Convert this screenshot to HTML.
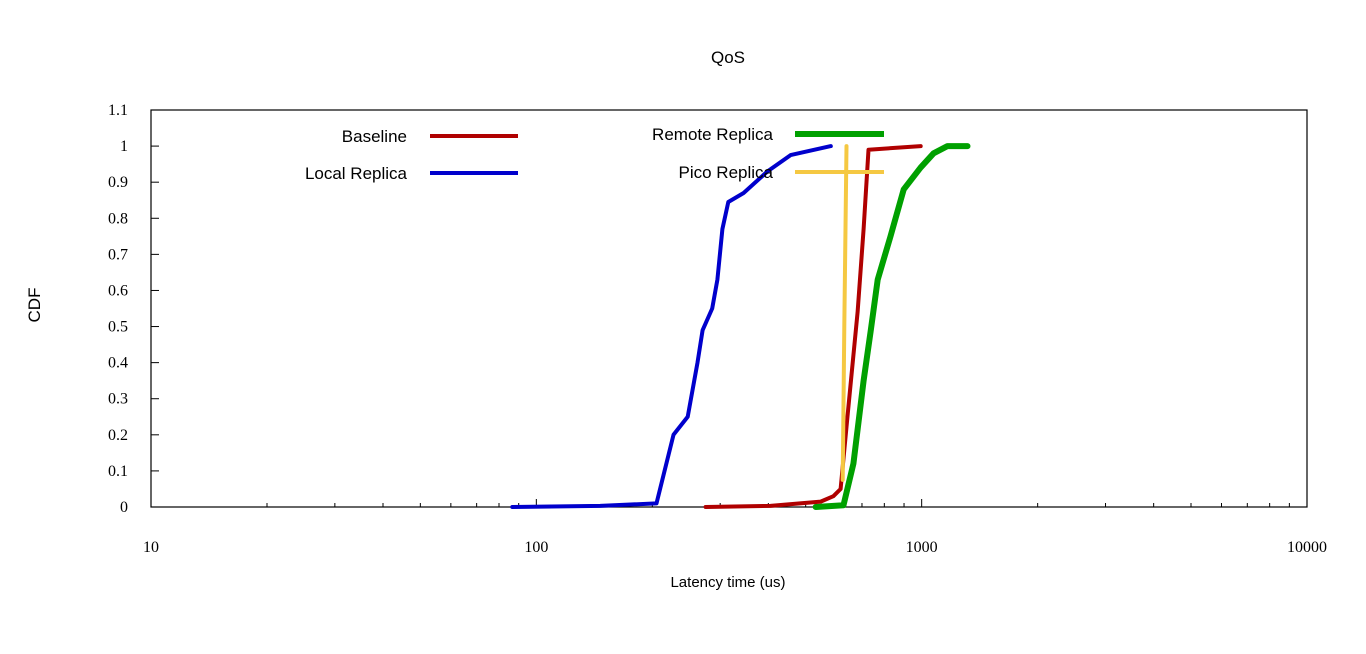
<!DOCTYPE html>
<html><head><meta charset="utf-8"><style>
body{margin:0;background:#fff;}
svg{display:block;}
.t{font-family:"Liberation Sans","DejaVu Sans",sans-serif;font-size:17px;fill:#000;}
.tk{font-family:"Liberation Serif",serif;font-size:16px;fill:#000;}
</style></head><body>
<svg id="chart" width="1366" height="654" viewBox="0 0 1366 654">
<text class="t" x="728" y="63" text-anchor="middle">QoS</text>
<text class="t" x="728" y="587" text-anchor="middle" style="font-size:15px">Latency time (us)</text>
<text class="t" x="40" y="305" text-anchor="middle" transform="rotate(-90 40 305)">CDF</text>
<rect x="151" y="110" width="1156" height="397" fill="none" stroke="#000" stroke-width="1.2"/>
<g id="axes"></g>
<g id="series"></g>
<g id="legend"></g>
</svg>
<script>
const xTicks=[10,100,1000,10000];
const yTicks=[0,0.1,0.2,0.3,0.4,0.5,0.6,0.7,0.8,0.9,1,1.1];
const seriesNames=["Baseline","Local Replica","Remote Replica","Pico Replica"];
const baselineX=[275,405,547,590,616,643,682,707,728,994];
const baselineY=[0,0.003,0.015,0.03,0.05,0.26,0.54,0.77,0.99,1.0];
const localX=[86.6,146.5,205,227,247,262,270,286,295,304,315,345,398,457,581];
const localY=[0,0.003,0.01,0.2,0.25,0.4,0.49,0.55,0.63,0.77,0.845,0.87,0.93,0.975,1.0];
const remoteX=[531,627,665,707,738,769,830,898,993,1074,1167,1315];
const remoteY=[0,0.005,0.12,0.35,0.49,0.63,0.75,0.88,0.94,0.98,1.0,1.0];
const picoX=[624,630,638];
const picoY=[0.075,0.5,1.0];

const X0=151,X1=1307,Y0=507,Y1=110;
function sx(v){return X0+(Math.log10(v)-1)/3*(X1-X0);}
function sy(v){return Y0-v/1.1*(Y0-Y1);}
const NS="http://www.w3.org/2000/svg";
function mk(tag,attrs,parent){const e=document.createElementNS(NS,tag);for(const k in attrs)e.setAttribute(k,attrs[k]);parent.appendChild(e);return e;}
const axes=document.getElementById('axes');
yTicks.forEach(v=>{
  const y=sy(v);
  const l=mk('line',{x1:X0,x2:X0+8,y1:y,y2:y,stroke:'#000','stroke-width':1},axes);
  
  
  const t=mk('text',{x:128,y:y+5,'text-anchor':'end',class:'tk'},axes);
  t.textContent=String(v);
  
  
});
xTicks.forEach((v,i)=>{
  const x=sx(v);
  const l=mk('line',{x1:x,x2:x,y1:Y0,y2:Y0-8,stroke:'#000','stroke-width':1},axes);
  
  
  const t=mk('text',{x:x,y:552,'text-anchor':'middle',class:'tk'},axes);
  t.textContent=String(v);
  
  
  if(i<xTicks.length-1){
    for(let m=2;m<=9;m++){
      const xm=sx(v*m);
      const ml=mk('line',{x1:xm,x2:xm,y1:Y0,y2:Y0-4,stroke:'#000','stroke-width':1},axes);
      
      
    }
  }
});
const ser=document.getElementById('series');
function line(xs,ys,color,w,name){
  const d=xs.map((x,i)=>(i?'L':'M')+sx(x).toFixed(1)+','+sy(ys[i]).toFixed(1)).join(' ');
  const p=mk('path',{d:d,fill:'none',stroke:color,'stroke-width':w,'stroke-linejoin':'round','stroke-linecap':'round'},ser);
  
  
}
line(localX,localY,'#0000cc',4,'local-replica-line');
line(remoteX,remoteY,'#00a000',6,'remote-replica-line');
line(baselineX,baselineY,'#b00000',4,'baseline-line');
line(picoX,picoY,'#f5c842',4,'pico-replica-line');
const lg=document.getElementById('legend');
const lgItems=[[seriesNames[0],407,430,518,136,'#b00000',4],[seriesNames[1],407,430,518,173,'#0000cc',4],[seriesNames[2],773,795,884,134,'#00a000',6],[seriesNames[3],773,795,884,172,'#f5c842',4]];
lgItems.forEach(it=>{
  const t=mk('text',{x:it[1],y:it[4]+6,'text-anchor':'end',class:'t'},lg);
  t.textContent=it[0];
  
  
  const l=mk('line',{x1:it[2],x2:it[3],y1:it[4],y2:it[4],stroke:it[5],'stroke-width':it[6]},lg);
  
  
});
</script>
</body></html>
